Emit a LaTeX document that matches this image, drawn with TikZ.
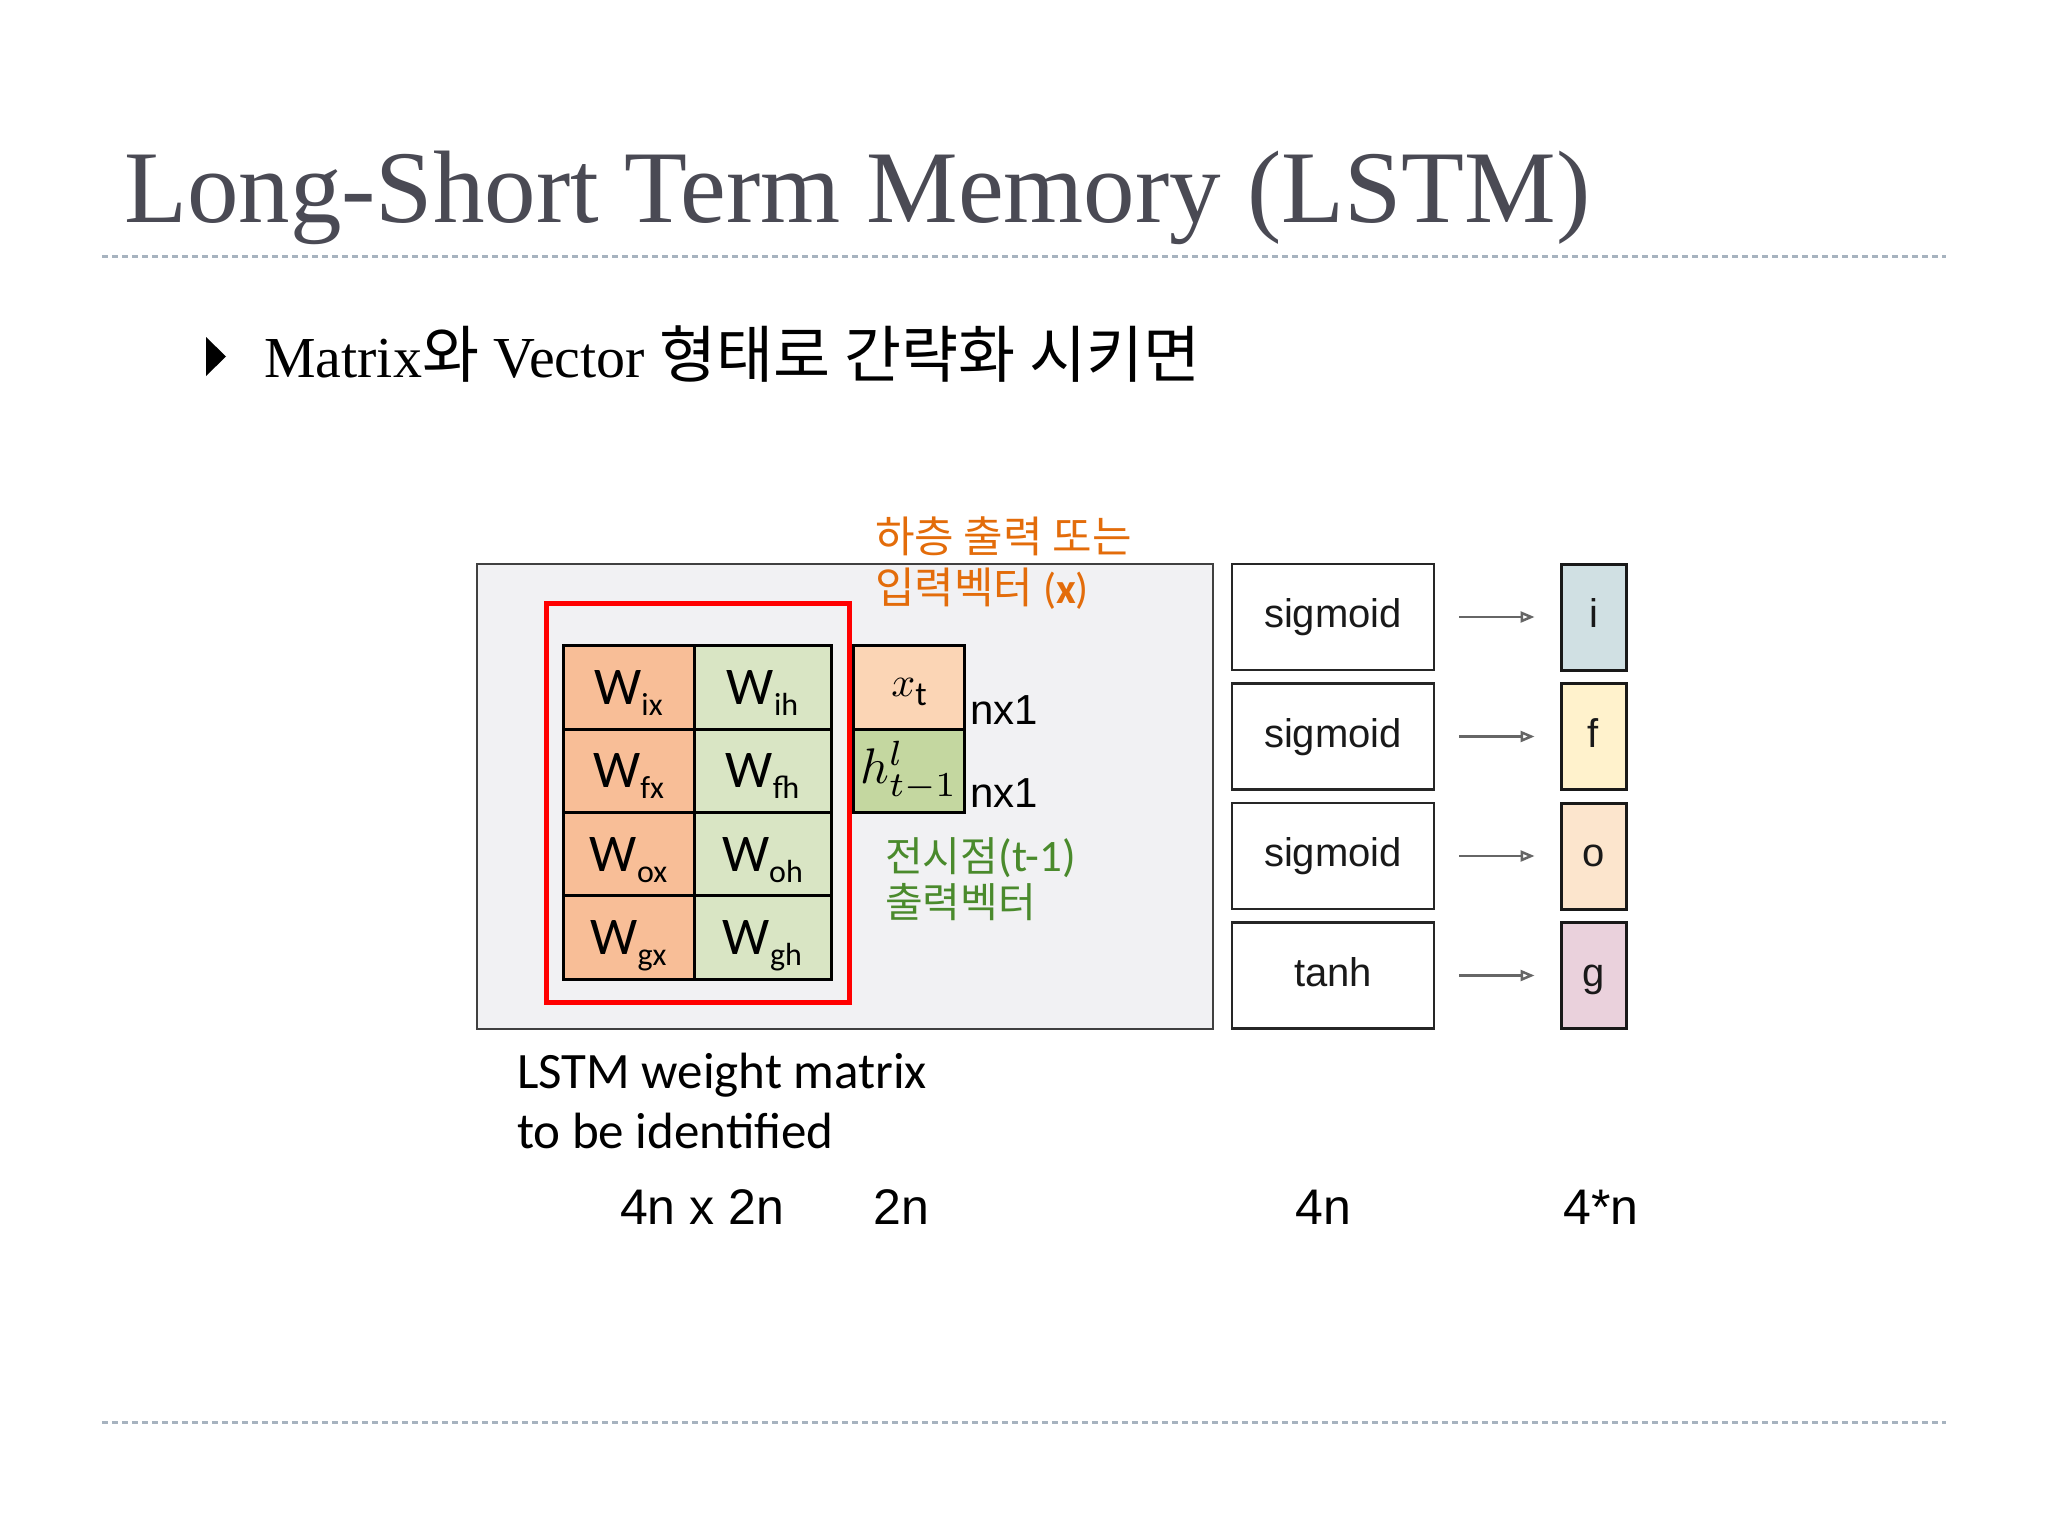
\documentclass[tikz,border=0pt]{standalone}
\usepackage{graphicx}
\usepackage{fontspec}
\setmainfont{Liberation Serif}
\newfontfamily\krfont{Noto Sans CJK KR}
\newfontfamily\calfont{Carlito}
\newfontfamily\arfont{Liberation Sans}
\usetikzlibrary{arrows.meta}
\definecolor{titlegray}{HTML}{4A4A54}
\definecolor{sepcol}{HTML}{A7B3BF}
\definecolor{panelfill}{HTML}{F1F1F3}
\definecolor{wxc}{HTML}{F8BE97}
\definecolor{whc}{HTML}{D9E5C4}
\definecolor{xtc}{HTML}{FBD5B5}
\definecolor{htc}{HTML}{C4D7A0}
\definecolor{orangeT}{HTML}{E36C0A}
\definecolor{greenT}{HTML}{4A8A2C}
\definecolor{gic}{HTML}{D0E0E3}
\definecolor{gfc}{HTML}{FFF2CC}
\definecolor{goc}{HTML}{FCE5CD}
\definecolor{ggc}{HTML}{EAD1DC}
\newcommand\fsz[2]{\fontsize{#1}{#2}\selectfont}
\newcommand\wlab[1]{{\calfont\fsz{53}{53}W\smash{\raisebox{-11pt}{\fsz{32}{32}#1}}}}
\begin{document}
\begin{tikzpicture}[x=1pt,y=-1pt,
  sepline/.style={draw=sepcol, line width=3, dash pattern=on 6pt off 4pt},
  cell/.style={draw=black, line width=3, minimum height=83.3, inner sep=0},
  fnbox/.style={draw=black!85, line width=2.5, fill=white, minimum width=202, minimum height=106, inner sep=0, font=\arfont\fsz{40}{40}, text=black!90, text height=29pt, text depth=8pt},
  gatebox/.style={draw=black!90, line width=3, minimum width=65, minimum height=106, inner sep=0, font=\arfont\fsz{40}{40}, text=black!90, text height=29pt, text depth=8pt},
  conn/.style={draw=black!60, line width=2.5, shorten <=24pt, shorten >=25pt, -{Triangle[open, length=14pt, width=11pt, line width=2.5pt]}},
  plain/.style={inner sep=0}
]
\useasboundingbox[fill=white] (0,0) rectangle (2048,1536);

% title and separators
\node[plain, anchor=base west, text=titlegray, font=\fsz{103}{110}] (title) at (124,222) {Long-Short Term Memory (LSTM)};
\path[sepline] (102,256) -- (1946,256);
\path[sepline] (102,1422) -- (1946,1422);

% bullet line
\fill[black] (206,337) -- (226,356.5) -- (206,376) -- cycle;
\node[plain, anchor=base west, font=\fsz{58}{60}] (sub) at (264,377) {Matrix{\krfont\fsz{62}{62}와} Vector {\krfont\fsz{62}{62}형태로 간략화 시키면}};

% panel
\path[draw=black!75, line width=2, fill=panelfill] (477,564) rectangle (1213,1029);
\draw[red, line width=5] (546,603) rectangle (849,1002);

% weight matrix
\node[cell, fill=wxc, minimum width=131] (wix) at (628.5,687.5) {\wlab{ix}};
\node[cell, fill=whc, minimum width=137] (wih) at (762.5,687.5) {\wlab{ih}};
\node[cell, fill=wxc, minimum width=131] (wfx) at (628.5,770.8) {\wlab{fx}};
\node[cell, fill=whc, minimum width=137] (wfh) at (762.5,770.8) {\wlab{fh}};
\node[cell, fill=wxc, minimum width=131] (wox) at (628.5,854.1) {\wlab{ox}};
\node[cell, fill=whc, minimum width=137] (woh) at (762.5,854.1) {\wlab{oh}};
\node[cell, fill=wxc, minimum width=131] (wgx) at (628.5,937.4) {\wlab{gx}};
\node[cell, fill=whc, minimum width=137] (wgh) at (762.5,937.4) {\wlab{gh}};

% input vectors
\node[cell, fill=xtc, minimum width=111] (xt) at (909,687.5) {\scalebox{4.2}{$x$}\smash{\raisebox{-9pt}{\calfont\fsz{34}{34}t}}};
\node[cell, fill=htc, minimum width=111] (ht) at (909,770.8) {\scalebox{5.0}{$h^{l}_{t-1}$}};
\node[plain, anchor=base west, font=\arfont\fsz{42}{42}] (n1) at (970,724) {nx1};
\node[plain, anchor=base west, font=\arfont\fsz{42}{42}] (n2) at (970,807) {nx1};

% annotations
\node[plain, anchor=north west, align=left, text=orangeT, font=\krfont\fsz{43}{51}] (xnote) at (875,517)
  {하층 출력 또는\\입력벡터 {\calfont(\textbf{x})}};
\node[plain, anchor=north west, align=left, text=greenT, font=\krfont\fsz{41}{46}] (hnote) at (885,837)
  {전시점{\calfont\fsz{45}{46}(t-1)}\\출력벡터};

\node[plain, anchor=base west, align=left, font=\calfont\fsz{51}{60}] (wlabel) at (517,1148)
  {LSTM weight matrix\\to be identified};

% activations and gates
\node[fnbox] (s1) at (1333,617) {sigmoid};
\node[fnbox] (s2) at (1333,736.5) {sigmoid};
\node[fnbox] (s3) at (1333,856) {sigmoid};
\node[fnbox] (s4) at (1333,975.5) {tanh};
\node[gatebox, fill=gic] (gi) at (1593.5,617) {i};
\node[gatebox, fill=gfc] (gf) at (1593.5,736.5) {f};
\node[gatebox, fill=goc] (go) at (1593.5,856) {o};
\node[gatebox, fill=ggc] (gg) at (1593.5,975.5) {g};
\draw[conn] (s1) -- (gi);
\draw[conn] (s2) -- (gf);
\draw[conn] (s3) -- (go);
\draw[conn] (s4) -- (gg);

% dimension labels
\node[plain, anchor=base, font=\arfont\fsz{50}{50}] (d1) at (702,1224) {4n x 2n};
\node[plain, anchor=base, font=\arfont\fsz{50}{50}] (d2) at (901,1224) {2n};
\node[plain, anchor=base, font=\arfont\fsz{50}{50}] (d3) at (1323,1224) {4n};
\node[plain, anchor=base, font=\arfont\fsz{50}{50}] (d4) at (1601,1224) {4*n};
\end{tikzpicture}
\end{document}
